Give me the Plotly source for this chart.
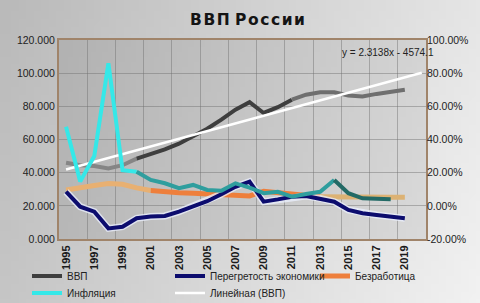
import base64
import struct
import zlib

import plotly.graph_objects as go

years = list(range(1995, 2020))
gdp = [46, 44.5, 44, 42.5, 44.5, 48.5, 51, 54, 57.5, 62, 66.5, 72, 78, 82.5, 76,
       79.5, 84, 87, 88.5, 88.5, 86.5, 86, 87.5, 89, 90]
overheat = [8.5, -0.5, -3.5, -13.6, -12.6, -7.5, -6.5, -6.1, -3.5, -0.2, 2.8, 7, 11.5, 14.6, 2.5,
            3.9, 5.5, 5.9, 4.5, 2.5, -2.5, -4.5, -5.5, -6.5, -7.5]
unemployment = [9.6, 10.6, 12.3, 13.4, 13, 10.8, 9.2, 8.3, 7.9, 7.6, 7.1, 6.5, 6, 6, 8.8,
                7.8, 7, 6, 5.5, 5.3, 5.5, 5.3, 5.2, 5.2, 5.2]
infl_years = list(range(1995, 2019))
inflation = [47.7, 14.6, 30, 86, 21.5, 20.6, 15.6, 13.6, 10.6, 12.6, 9.6, 9.1, 13.6, 11, 7.6,
             8.5, 5.5, 7.1, 8.5, 15.6, 7.6, 4.5, 4, 4]
trend_slope = 2.3138
trend_intercept = -4574.1
trend_forward = 1.2
x_ticks = list(range(1995, 2020, 2))
left_ticks = [0, 20, 40, 60, 80, 100, 120]
right_ticks = [-20, 0, 20, 40, 60, 80, 100]

trend_x = [years[0], years[-1] + trend_forward]
trend_y = [trend_slope * x + trend_intercept for x in trend_x]

FONT = "Liberation Sans"


def gray_png(w, h, fn):
    """Tiny grayscale PNG for the soft background shading."""
    raw = b"".join(b"\x00" + bytes(max(0, min(255, int(fn(i / (w - 1), j / (h - 1))))) for i in range(w))
                   for j in range(h))

    def chunk(tag, data):
        return struct.pack(">I", len(data)) + tag + data + struct.pack(">I", zlib.crc32(tag + data) & 0xffffffff)

    png = (b"\x89PNG\r\n\x1a\n" + chunk(b"IHDR", struct.pack(">IIBBBBB", w, h, 8, 0, 0, 0, 0))
           + chunk(b"IDAT", zlib.compress(raw)) + chunk(b"IEND", b""))
    return "data:image/png;base64," + base64.b64encode(png).decode()


paper_img = gray_png(64, 40, lambda u, v: 186 + 44 * u + 12 * v)
plot_img = gray_png(64, 40, lambda u, v: 178 + 34 * u + 6 * v)

fig = go.Figure()


def seg(xs, ys, a, b):
    return xs[a:b + 1], ys[a:b + 1]


gdp_parts = [(0, 5, "#858585"), (5, 16, "#3e3e3e"), (16, 24, "#6f6f6f")]
for i, (a, b, c) in enumerate(gdp_parts):
    sx, sy = seg(years, gdp, a, b)
    fig.add_trace(go.Scatter(x=sx, y=sy, mode="lines", name="ВВП", showlegend=(i == 1),
                             legend="legend", line=dict(color=c, width=4)))

un_parts = [(0, 6, "#e8b072"), (6, 18, "#ee7f3c"), (18, 24, "#dcb274")]
for i, (a, b, c) in enumerate(un_parts):
    sx, sy = seg(years, unemployment, a, b)
    fig.add_trace(go.Scatter(x=sx, y=sy, mode="lines", name="Безработица", showlegend=(i == 1),
                             legend="legend3", yaxis="y2", line=dict(color=c, width=5)))

fig.add_trace(go.Scatter(x=years, y=overheat, mode="lines", yaxis="y2", showlegend=False,
                         hoverinfo="skip", line=dict(color="rgba(235,240,255,0.75)", width=7)))
fig.add_trace(go.Scatter(x=years, y=overheat, mode="lines", name="Перегретость экономики", yaxis="y2",
                         line=dict(color="#0c0c6e", width=4), legend="legend2"))

inf_parts = [(0, 5, "#35e8e8"), (5, 19, "#2f9e9e"), (19, 23, "#236a66")]
for i, (a, b, c) in enumerate(inf_parts):
    sx, sy = seg(infl_years, inflation, a, b)
    fig.add_trace(go.Scatter(x=sx, y=sy, mode="lines", name="Инфляция", showlegend=(i == 0),
                             legend="legend4", yaxis="y2", line=dict(color=c, width=4)))

fig.add_trace(go.Scatter(x=trend_x, y=trend_y, mode="lines", name="Линейная (ВВП)",
                         line=dict(color="#ffffff", width=2.5), legend="legend5"))

grid = "rgba(110,110,110,0.45)"

W, H, L, R, T, B = 480, 303, 59, 54, 40, 64
pw, ph = W - L - R, H - T - B


def leg(x_px, y_px):
    return dict(orientation="h", x=(x_px - L) / pw, xanchor="left", y=(H - B - y_px) / ph,
                yanchor="middle", bgcolor="rgba(0,0,0,0)", font=dict(size=10, color="#222"))


hs = "\u200a"
fig.update_layout(
    width=W, height=H,
    margin=dict(l=L, r=R, t=T, b=B, autoexpand=False),
    paper_bgcolor="#d2d2d2",
    plot_bgcolor="rgba(0,0,0,0)",
    font=dict(family=FONT, size=11, color="#222222"),
    title=dict(text="<b>" + hs.join("ВВП") + " " + hs.join("России") + "</b>", x=247.5 / W, xanchor="center",
               y=0.935, yanchor="middle", font=dict(family="DejaVu Sans", size=15.5, color="#141414")),
    images=[
        dict(source=paper_img, xref="paper", yref="paper", x=-L / pw, y=1 + T / ph,
             sizex=W / pw, sizey=H / ph, sizing="stretch", layer="below", xanchor="left", yanchor="top"),
        dict(source=plot_img, xref="paper", yref="paper", x=0, y=1, sizex=1, sizey=1,
             sizing="stretch", layer="below", xanchor="left", yanchor="top"),
    ],
    xaxis=dict(range=[1994.5, 2020.5], tickvals=x_ticks, ticktext=[f"<b>{y}</b>" for y in x_ticks],
               tickangle=-90, showgrid=False, zeroline=False, showline=True, linecolor="#a0846a",
               linewidth=2, mirror=True, tickfont=dict(size=11, color="#1a1a1a"),
               minor=dict(tick0=1994.5, dtick=2, showgrid=True, gridcolor=grid, gridwidth=1)),
    yaxis=dict(range=[0, 120], tickvals=left_ticks, ticktext=[f"{v:.3f}" for v in left_ticks],
               showgrid=True, gridcolor=grid, zeroline=False, showline=True, linecolor="#a0846a",
               linewidth=2, mirror=True, tickfont=dict(size=10.5, color="#222")),
    yaxis2=dict(range=[-20, 100], tickvals=right_ticks, ticktext=[f"{v:.2f}%" for v in right_ticks],
                overlaying="y", side="right", showgrid=False, zeroline=False,
                tickfont=dict(size=10.5, color="#222")),
    legend=leg(27, 276),
    legend2=leg(170, 276),
    legend3=leg(315, 276),
    legend4=leg(27, 293),
    legend5=leg(170, 293),
    annotations=[dict(text=f"y = {trend_slope}x - {abs(trend_intercept)}", xref="paper", yref="paper",
                      x=(436 - L) / pw, y=(H - B - 52) / ph, xanchor="right", yanchor="middle",
                      showarrow=False, font=dict(size=10, color="#222"))],
)

fig.write_html("out.html")
